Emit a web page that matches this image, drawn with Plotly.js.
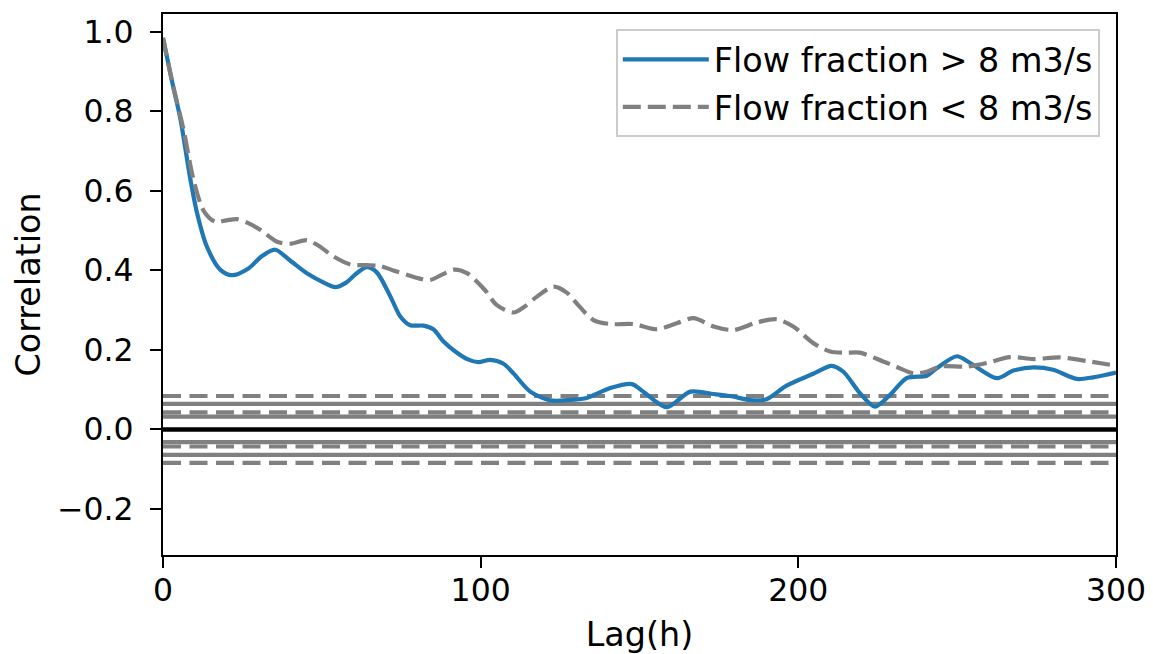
<!DOCTYPE html>
<html>
<head>
<meta charset="utf-8">
<script src="https://cdn.plot.ly/plotly-3.0.1.min.js"></script>
<style>html,body{margin:0;padding:0;background:#fff;}#chart{width:1153px;height:654px;}</style>
</head>
<body>
<div id="chart"></div>
<script>
// Lags (hours) and correlations
const lagHigh = [0,3,5.5,8.6,10.7,13.8,18,21.7,26.9,31,35.3,40,45.3,50,54.3,57.4,61,64.2,67.3,71.6,74.7,77.8,82,85.1,88.3,92,96,99.3,103,107.2,110.3,115.6,121.9,128.2,133.4,140.8,147.6,151.2,158.6,166,173.3,178.5,184.8,190,196.3,204.7,210.5,214.2,219.4,224.1,228.9,234.1,240.4,243.6,249.9,254.1,262.5,267.7,274,280.2,287.6,292.8,300];
const corrHigh = [0.985,0.87,0.78,0.63,0.545,0.46,0.402,0.388,0.405,0.435,0.452,0.425,0.393,0.372,0.358,0.368,0.393,0.408,0.395,0.334,0.284,0.262,0.261,0.252,0.221,0.196,0.176,0.169,0.175,0.165,0.141,0.095,0.073,0.074,0.079,0.104,0.114,0.095,0.056,0.095,0.089,0.084,0.074,0.076,0.11,0.14,0.16,0.145,0.091,0.057,0.087,0.129,0.135,0.154,0.184,0.167,0.129,0.148,0.156,0.15,0.127,0.131,0.143];

const lagLow = [0,3,6.5,9.6,12.8,16.5,20,23.3,26.5,30.6,35.9,40.1,45.3,49,53.7,59,64,68.4,72.5,76.8,80.5,84.1,88,91.5,95.7,101.4,105,110.3,114,117.7,122.9,127.1,131,135.5,140.8,148.1,155.4,161.7,167,173.3,179.6,186.9,193.2,198.4,204.7,210,215,219.4,226.7,231,236.2,240.4,244.6,253,259.3,266.6,274,282.4,290.8,300];
const corrLow = [0.985,0.87,0.753,0.628,0.55,0.522,0.526,0.529,0.52,0.502,0.472,0.467,0.476,0.462,0.435,0.415,0.413,0.411,0.4,0.389,0.38,0.376,0.39,0.402,0.393,0.35,0.313,0.294,0.31,0.334,0.359,0.344,0.31,0.275,0.265,0.265,0.252,0.267,0.28,0.259,0.25,0.269,0.277,0.259,0.217,0.196,0.193,0.193,0.171,0.157,0.141,0.145,0.158,0.158,0.167,0.182,0.177,0.181,0.172,0.16];

// Confidence levels (horizontal reference lines)
const solidLevels = [0.064, 0.032, -0.032, -0.064];
const dashedLevels = [0.084, 0.043, -0.043, -0.084];
const zeroLevel = [0];

const seriesNames = ['Flow fraction > 8 m3/s', 'Flow fraction < 8 m3/s'];
const yTicks = [-0.2, 0, 0.2, 0.4, 0.6, 0.8, 1.0];
const yTickText = ['\u22120.2', '0.0', '0.2', '0.4', '0.6', '0.8', '1.0'];
const xTicks = [0, 100, 200, 300];

const FONT = 'DejaVu Sans, sans-serif';
const GRAY = '#808080';
const TICK_SIZE = 31.5;
const TEXT_SIZE = 33.4;

const shapes = [];
solidLevels.forEach(v => shapes.push({type:'line', xref:'paper', yref:'y', x0:0, x1:1, y0:v, y1:v,
  line:{color:GRAY, width:4.2}, layer:'below'}));
dashedLevels.forEach(v => shapes.push({type:'line', xref:'paper', yref:'y', x0:0, x1:1, y0:v, y1:v,
  line:{color:GRAY, width:4.2, dash:'18px,8.5px'}, layer:'below'}));
zeroLevel.forEach(v => shapes.push({type:'line', xref:'paper', yref:'y', x0:0, x1:1, y0:v, y1:v,
  line:{color:'#000000', width:4.5}, layer:'below'}));

const traces = [
  {x: lagHigh, y: corrHigh, mode:'lines', name: seriesNames[0], legendgroup:'a',
   line:{color:'#1f77b4', width:4.2, shape:'spline', smoothing:0.8}},
  {x: lagLow, y: corrLow, mode:'lines', name: seriesNames[1], legendgroup:'b',
   line:{color:GRAY, width:4.2, shape:'spline', smoothing:0.8, dash:'18px,7px'}}
];

const layout = {
  width:1153, height:654,
  margin:{l:163, r:37, t:14, b:99, pad:0},
  paper_bgcolor:'#ffffff', plot_bgcolor:'#ffffff',
  font:{family:FONT, size:TEXT_SIZE, color:'#000000'},
  showlegend:true,
  legend:{x:0.983, y:0.972, xanchor:'right', yanchor:'top', bgcolor:'rgba(255,255,255,0.85)',
    bordercolor:'#cccccc', borderwidth:2, font:{family:FONT, size:TEXT_SIZE}, itemwidth:86,
    tracegroupgap:1},
  xaxis:{range:[0,300], tickvals:xTicks, ticks:'outside', ticklen:11, tickwidth:2.2, tickcolor:'#000',
    showline:true, linecolor:'#000', linewidth:2.2, mirror:true, showgrid:false, zeroline:false,
    tickfont:{family:FONT, size:TICK_SIZE}, ticklabelstandoff:-5,
    title:{text:'Lag(h)', font:{family:FONT, size:TEXT_SIZE}, standoff:46}},
  yaxis:{range:[-0.316,1.045], tickvals:yTicks, ticktext:yTickText, ticks:'outside', ticklen:11, tickwidth:2.2, tickcolor:'#000',
    showline:true, linecolor:'#000', linewidth:2.2, mirror:true, showgrid:false, zeroline:false,
    tickfont:{family:FONT, size:TICK_SIZE}, ticklabelstandoff:10,
    title:{text:'Correlation', font:{family:FONT, size:TEXT_SIZE}, standoff:6}},
  shapes: shapes
};

Plotly.newPlot('chart', traces, layout, {displayModeBar:false, staticPlot:true});
</script>
</body>
</html>
